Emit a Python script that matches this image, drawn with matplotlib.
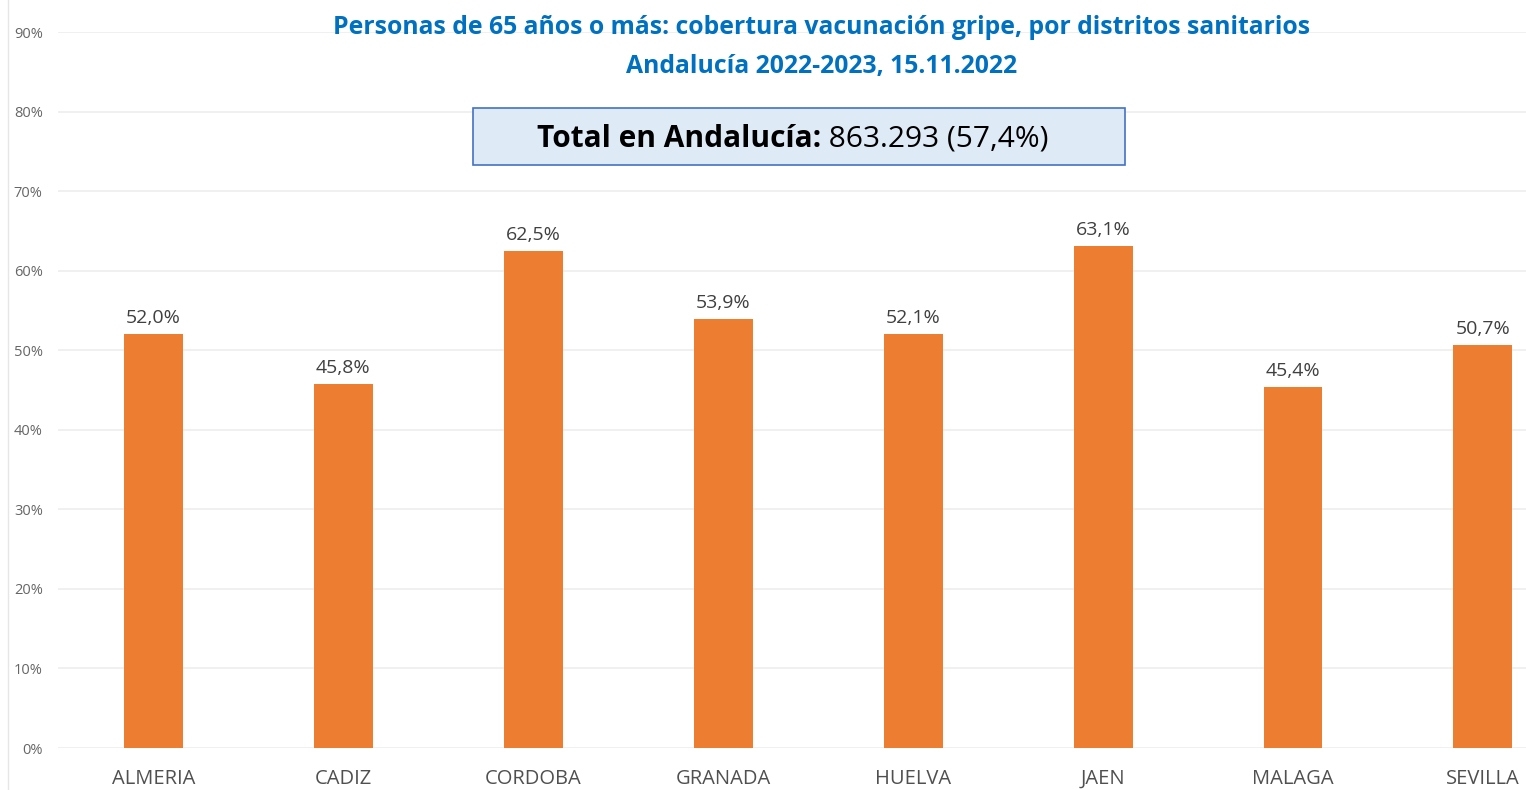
import matplotlib
matplotlib.use("Agg")
import matplotlib.pyplot as plt
from matplotlib.lines import Line2D
from matplotlib.ticker import FuncFormatter

categories = ["ALMERIA", "CADIZ", "CORDOBA", "GRANADA", "HUELVA", "JAEN", "MALAGA", "SEVILLA"]
values = [52.0, 45.8, 62.5, 53.9, 52.1, 63.1, 45.4, 50.7]
value_labels = ["52,0%", "45,8%", "62,5%", "53,9%", "52,1%", "63,1%", "45,4%", "50,7%"]
yticks = [0, 10, 20, 30, 40, 50, 60, 70, 80, 90]
title_lines = ["Personas de 65 años o más: cobertura vacunación gripe, por distritos sanitarios",
               "Andalucía 2022-2023, 15.11.2022"]
total_bold = "Total en Andalucía:"
total_rest = " 863.293 (57,4%)"

plt.rcParams['font.family'] = ['Open Sans', 'DejaVu Sans']

W, H = 1526, 790
fig = plt.figure(figsize=(W / 100, H / 100), dpi=100)
left, right, bottom, top = 58, 1526, 748, 32
ax = fig.add_axes([left / W, (H - bottom) / H, (right - left) / W, (bottom - top) / H])

x = list(range(len(categories)))
ax.bar(x, values, width=0.31, color="#ED7D31", zorder=3)
for xi, v, lab in zip(x, values, value_labels):
    ax.annotate(lab, (xi, v), xytext=(0, 5), textcoords="offset points",
                ha="center", va="bottom", fontsize=14, color="#404040", zorder=4)

ax.set_xlim(-0.503, 7.227)
ax.set_ylim(0, 90)
ax.set_yticks(yticks)
ax.yaxis.set_major_formatter(FuncFormatter(lambda v, p: f"{int(v)}%"))
ax.grid(axis="y", color="#EDEDED", linewidth=1.2, zorder=0)
ax.set_xticks(x)
ax.set_xticklabels(categories)
ax.tick_params(axis="x", length=0, pad=15, labelsize=14.5, labelcolor="#505050")
ax.tick_params(axis="y", length=0, pad=11, labelsize=10.5, labelcolor="#666666")
for s in ax.spines.values():
    s.set_visible(False)

# title
fig.text(822 / W, 1 - 28 / H, title_lines[0], ha="center", va="center",
         fontsize=17.8, fontweight="bold", color="#0070C0")
fig.text(822 / W, 1 - 66 / H, title_lines[1], ha="center", va="center",
         fontsize=17.8, fontweight="bold", color="#0070C0")

# total box
bx0, by0, bx1, by1 = 473, 108, 1125, 165
fig.patches.append(plt.Rectangle((bx0 / W, 1 - by1 / H), (bx1 - bx0) / W, (by1 - by0) / H,
                                 transform=fig.transFigure, facecolor="#DEEAF6",
                                 edgecolor="#4472C4", linewidth=1.2, zorder=5))
t1 = fig.text(537 / W, 1 - 139 / H, total_bold, ha="left", va="center",
              fontsize=21.5, fontweight="bold", color="black", zorder=6)
fig.canvas.draw()
bb = t1.get_window_extent()
fig.text(bb.x1 / W, 1 - 139 / H, total_rest, ha="left", va="center",
         fontsize=21.5, color="black", zorder=6)

# faint left border line
fig.add_artist(Line2D([8 / W, 8 / W], [0, 1], transform=fig.transFigure,
                      color="#E6E6E6", linewidth=1))

fig.savefig("out.png", dpi=100)
